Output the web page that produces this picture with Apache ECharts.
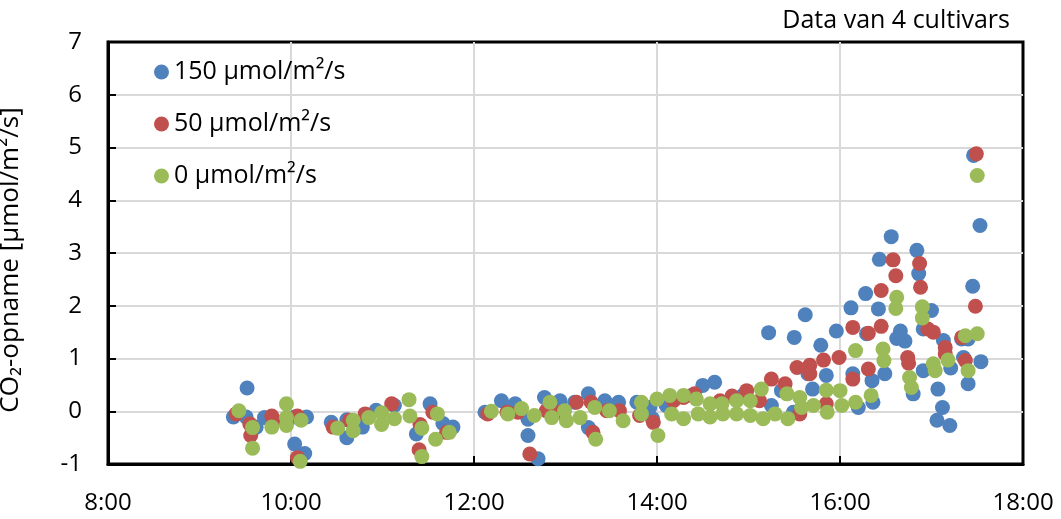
<!DOCTYPE html>
<html>
<head>
<meta charset="utf-8">
<style>
  html, body { margin: 0; padding: 0; background: #fff; }
  #chart { width: 1061px; height: 519px; }
</style>
<script src="https://cdn.jsdelivr.net/npm/echarts@6/dist/echarts.min.js"></script>
</head>
<body>
<div id="chart"></div>
<script>
// Measurement times (decimal hours) and CO2 uptake values per light level
const seriesNames = ['150 µmol/m²/s', '50 µmol/m²/s', '0 µmol/m²/s'];
const xTicks = [8, 10, 12, 14, 16, 18];

const t150 = [9.37, 9.52, 9.51, 9.62, 9.71, 10.04, 10.17, 10.04, 10.15, 10.44, 10.61, 10.61, 10.78, 10.93, 11.13,
  11.37, 11.52, 11.66, 11.77, 12.12, 12.30, 12.45, 12.59, 12.59, 12.70, 12.77, 12.94, 13.10, 13.25, 13.25,
  13.43, 13.58, 13.78, 13.92, 13.95, 14.10, 14.38, 14.50, 14.63, 14.94, 15.25, 15.36, 15.49, 15.70, 15.22,
  15.50, 15.62, 15.79, 15.96, 16.12, 16.28, 16.43, 16.56, 16.42, 16.29, 16.66, 16.71, 16.62, 16.84, 16.86,
  16.91, 15.85, 16.14, 16.35, 16.49, 16.20, 16.36, 16.80, 16.91, 17.00, 17.13, 17.33, 17.40, 17.21, 17.35,
  17.54, 17.07, 17.40, 17.12, 17.06, 17.20, 17.45, 17.46, 17.53, 15.65];
const v150 = [-0.11, 0.44, -0.11, -0.30, -0.12, -0.11, -0.11, -0.62, -0.80, -0.21, -0.50, -0.16, -0.30, 0.02, 0.11,
  -0.43, 0.14, -0.23, -0.30, -0.02, 0.20, 0.14, -0.15, -0.46, -0.90, 0.26, 0.20, 0.17, 0.33, -0.31,
  0.20, 0.17, 0.17, 0.07, -0.14, 0.11, 0.30, 0.49, 0.55, 0.30, 0.11, 0.39, -0.02, 0.42, 1.49,
  1.40, 1.83, 1.25, 1.52, 1.96, 2.23, 2.88, 3.31, 1.94, 1.47, 1.52, 1.33, 1.38, 3.05, 2.61,
  1.56, 0.68, 0.71, 0.58, 0.71, 0.07, 0.17, 0.33, 0.77, 1.91, 1.34, 1.37, 1.37, 0.82, 1.02,
  0.94, 0.42, 0.52, 0.07, -0.17, -0.27, 2.37, 4.85, 3.52, 0.71];

const t50 = [9.40, 9.55, 9.56, 9.79, 9.82, 10.07, 10.07, 10.46, 10.64, 10.81, 11.10, 11.41, 11.40, 11.55, 11.70,
  12.15, 12.36, 12.48, 12.61, 12.79, 12.94, 13.12, 13.28, 13.30, 13.45, 13.59, 13.81, 13.96, 14.18, 14.29,
  14.41, 14.69, 14.82, 14.98, 15.12, 15.25, 15.40, 15.53, 15.67, 15.67, 15.56, 15.82, 15.99, 16.14, 16.31,
  16.14, 16.31, 16.45, 16.45, 16.58, 16.61, 16.74, 16.75, 16.87, 16.88, 16.96, 17.02, 15.85, 17.15, 17.15,
  17.37, 17.33, 17.48, 17.49];
const v50 = [-0.05, -0.24, -0.46, -0.09, -0.17, -0.09, -0.88, -0.30, -0.17, -0.05, 0.14, -0.25, -0.73, -0.02, -0.40,
  -0.05, -0.02, -0.02, -0.81, 0.01, -0.02, 0.17, 0.17, -0.40, 0.01, 0.01, -0.08, -0.21, 0.20, 0.26,
  0.33, 0.20, 0.29, 0.39, 0.20, 0.61, 0.52, 0.83, 0.87, 0.71, -0.05, 0.97, 1.02, 1.59, 1.48,
  0.61, 0.80, 2.29, 1.61, 2.87, 2.57, 1.02, 0.91, 2.80, 2.35, 1.56, 1.50, 0.14, 1.21, 1.09,
  0.96, 1.40, 1.99, 4.88];

const t0 = [9.43, 9.58, 9.58, 9.79, 9.95, 9.95, 9.95, 10.11, 10.10, 10.51, 10.68, 10.68, 10.85, 10.99, 10.99,
  11.13, 11.29, 11.30, 11.43, 11.43, 11.60, 11.58, 11.73, 12.19, 12.37, 12.52, 12.66, 12.83, 12.85, 12.99,
  13.01, 13.16, 13.32, 13.33, 13.48, 13.63, 13.83, 13.83, 14.00, 14.01, 14.14, 14.16, 14.29, 14.29, 14.43,
  14.45, 14.58, 14.58, 14.71, 14.72, 14.87, 14.87, 15.02, 15.02, 15.14, 15.16, 15.29, 15.42, 15.43, 15.56,
  15.58, 15.71, 15.85, 15.86, 16.00, 16.02, 16.17, 16.17, 16.34, 16.47, 16.48, 16.62, 16.61, 16.76, 16.78,
  16.90, 16.90, 17.04, 17.02, 17.18, 17.37, 17.50, 17.40, 17.50];
const v0 = [0.01, -0.31, -0.70, -0.30, 0.14, -0.12, -0.27, -0.17, -0.95, -0.32, -0.17, -0.37, -0.12, -0.03, -0.25,
  -0.14, 0.22, -0.09, -0.32, -0.86, -0.05, -0.53, -0.40, 0.00, -0.05, 0.05, -0.08, 0.17, -0.12, 0.01,
  -0.18, -0.12, 0.07, -0.53, 0.01, -0.18, 0.17, -0.05, 0.23, -0.46, 0.30, -0.05, 0.30, -0.14, 0.23,
  -0.05, 0.14, -0.11, 0.14, -0.05, 0.20, -0.05, 0.20, -0.08, 0.42, -0.14, -0.05, 0.33, -0.14, 0.26,
  0.07, 0.11, 0.40, -0.02, 0.39, 0.11, 1.15, 0.17, 0.30, 1.18, 0.96, 2.16, 1.95, 0.64, 0.45,
  1.98, 1.77, 0.77, 0.90, 0.97, 1.43, 1.47, 0.77, 4.47];

const colors = ['#4F81BD', '#C0504D', '#9BBB59'];
const FONT = '"Open Sans", "DejaVu Sans", sans-serif';

function zip(ts, vs) { return ts.map((t, i) => [t, vs[i]]); }
const dataSets = [zip(t150, v150), zip(t50, v50), zip(t0, v0)];

const chart = echarts.init(document.getElementById('chart'), null, { renderer: 'canvas' });

const gridLine = { show: true, showMinLine: false, showMaxLine: false, lineStyle: { color: '#d9d9d9', width: 2 } };

chart.setOption({
  animation: false,
  backgroundColor: '#ffffff',
  color: colors,
  title: {
    text: 'Data van 4 cultivars',
    right: 46,
    top: 3,
    textStyle: { fontFamily: FONT, fontSize: 25, fontWeight: 'normal', color: '#000' }
  },
  legend: {
    orient: 'vertical',
    left: 149,
    top: 52,
    itemWidth: 15,
    itemHeight: 15,
    itemGap: 22,
    icon: 'circle',
    data: seriesNames,
    textStyle: { fontFamily: FONT, fontSize: 25, color: '#000', lineHeight: 30 }
  },
  grid: {
    left: 108, right: 38, top: 42, bottom: 55,
    outerBoundsMode: 'none',
    containLabel: false,
    show: true, borderColor: '#000', borderWidth: 3, backgroundColor: 'transparent'
  },
  xAxis: {
    type: 'value',
    min: xTicks[0], max: xTicks[xTicks.length - 1], interval: 2,
    axisLine: { show: true, onZero: false, lineStyle: { color: '#000', width: 3 } },
    axisTick: { show: true, inside: true, length: 8, lineStyle: { color: '#000', width: 2 } },
    splitLine: gridLine,
    axisLabel: {
      margin: 27,
      fontFamily: FONT, fontSize: 24, color: '#000',
      formatter: v => v + ':00'
    }
  },
  yAxis: {
    type: 'value',
    min: -1, max: 7, interval: 1,
    name: 'CO₂-opname [µmol/m²/s]',
    nameLocation: 'middle',
    nameGap: 84,
    nameRotate: 90,
    nameTextStyle: { fontFamily: FONT, fontSize: 26, color: '#000', padding: [0, 14, 0, 0] },
    axisLine: { show: true, onZero: false, lineStyle: { color: '#000', width: 3 } },
    axisTick: { show: true, inside: true, length: 8, lineStyle: { color: '#000', width: 2 } },
    splitLine: gridLine,
    axisLabel: { margin: 26, fontFamily: FONT, fontSize: 24, color: '#000' }
  },
  series: dataSets.map((d, i) => ({
    name: seriesNames[i],
    type: 'scatter',
    symbol: 'circle',
    symbolSize: 15,
    data: d,
    itemStyle: { color: colors[i], opacity: 1 },
    emphasis: { disabled: true }
  }))
});
</script>
</body>
</html>
